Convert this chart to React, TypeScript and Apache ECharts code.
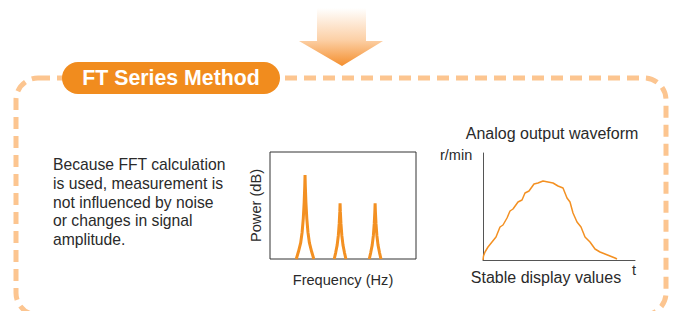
import React, { useEffect, useRef } from "react";
import * as echarts from "echarts";

// Spectrum peaks: [frequency position, power] (box spans 0..100 on both axes)
const peak1: number[][] = [
  [18, 0], [19.5, 7], [21, 15], [22, 25], [22.8, 38], [23.4, 53], [23.8, 68], [24, 78.5],
  [24.2, 68], [24.6, 53], [25.2, 38], [26, 25], [27, 15], [28.5, 7], [30, 0],
];
const peak2: number[][] = [
  [44, 0], [45, 6], [46, 13], [46.8, 22], [47.4, 33], [47.8, 44], [48, 52],
  [48.2, 44], [48.6, 33], [49.2, 22], [50, 13], [51, 6], [52, 0],
];
const peak3: number[][] = [
  [68, 0], [69, 6], [70, 13], [70.8, 22], [71.4, 33], [71.8, 44], [72, 52],
  [72.2, 44], [72.6, 33], [73.2, 22], [74, 13], [75, 6], [76, 0],
];

// Analog output waveform: [t, r/min]
const waveform: number[][] = [
  [0, 0], [0.5, 4], [2, 8], [5, 13], [9, 18], [13, 23], [17, 33], [20, 35], [24, 42],
  [27, 49], [30, 51], [35, 58], [39, 60], [42, 67], [46, 69], [51, 76], [55, 77],
  [60, 79], [65, 78], [70, 77], [75, 74], [80, 72], [84, 62], [87, 58], [90, 47],
  [94, 38], [98, 33], [102, 23], [107, 18], [112, 11], [117, 8], [122, 6], [127, 4],
  [132, 2], [134, 1],
];

const descText = [
  "Because FFT calculation",
  "is used, measurement is",
  "not influenced by noise",
  "or changes in signal",
  "amplitude.",
];

const FONT = "Liberation Sans, Arial, Helvetica, sans-serif";
const ORANGE = "#f39022";
const TEXT = "#2a2a2a";

export default function App() {
  const ref = useRef<HTMLDivElement>(null);
  useEffect(() => {
    if (!ref.current) return;
    const chart = echarts.init(ref.current, undefined, { renderer: "svg" });
    const hiddenAxis = {
      axisTick: { show: false },
      axisLabel: { show: false },
      splitLine: { show: false },
    };
    chart.setOption({
      animation: false,
      backgroundColor: "#ffffff",
      textStyle: { fontFamily: FONT },
      grid: [
        { left: 270, top: 152, width: 146, height: 107, show: true, borderColor: "#333", borderWidth: 1, backgroundColor: "transparent" },
        { left: 483, top: 153, width: 152, height: 107 },
      ],
      xAxis: [
        {
          gridIndex: 0, type: "value", min: 0, max: 100, ...hiddenAxis,
          axisLine: { show: false },
          name: "Frequency (Hz)", nameLocation: "middle", nameGap: 13,
          nameTextStyle: { fontSize: 14.6, color: TEXT, fontFamily: FONT },
        },
        {
          gridIndex: 1, type: "value", min: 0, max: 152, ...hiddenAxis,
          axisLine: { show: true, lineStyle: { color: "#555", width: 1 } },
        },
      ],
      yAxis: [
        {
          gridIndex: 0, type: "value", min: 0, max: 100, ...hiddenAxis,
          axisLine: { show: false },
          name: "Power (dB)", nameLocation: "middle", nameGap: 7, nameRotate: 90,
          nameTextStyle: { fontSize: 14.6, color: TEXT, fontFamily: FONT },
        },
        {
          gridIndex: 1, type: "value", min: 0, max: 107, ...hiddenAxis,
          axisLine: { show: true, lineStyle: { color: "#555", width: 1 } },
        },
      ],
      series: [
        ...[peak1, peak2, peak3].map((d) => ({
          type: "line", xAxisIndex: 0, yAxisIndex: 0, data: d, symbol: "none",
          lineStyle: { color: ORANGE, width: 3 }, clip: true,
        })),
        {
          type: "line", xAxisIndex: 1, yAxisIndex: 1, data: waveform, symbol: "none",
          lineStyle: { color: ORANGE, width: 1.5 },
        },
      ],
      graphic: [
        {
          type: "polygon", z: 5,
          shape: { points: [[317, 8], [366, 8], [366, 41], [383, 41], [342, 66], [299, 41], [317, 41]] },
          style: {
            fill: new echarts.graphic.LinearGradient(0, 0, 0, 1, [
              { offset: 0, color: "#ffffff" },
              { offset: 0.55, color: "#fcd0a6" },
              { offset: 1, color: "#f48f2e" },
            ]),
          },
        },
        {
          type: "rect", z: 5,
          shape: { x: 16, y: 78, width: 650, height: 237, r: 22 },
          style: { fill: "none", stroke: "#fcc590", lineWidth: 5, lineDash: [12, 7] },
        },
        {
          type: "rect", z: 6,
          shape: { x: 62, y: 62, width: 218, height: 32, r: 16 },
          style: { fill: "#f18c1e" },
        },
        {
          type: "text", z: 7, x: 171, y: 78,
          style: {
            text: "FT Series Method", fill: "#ffffff", fontSize: 21.3, fontWeight: "bold",
            fontFamily: FONT, align: "center", verticalAlign: "middle",
          },
        },
        {
          type: "text", z: 7, x: 53, y: 155,
          style: {
            text: descText.join("\n"), fill: TEXT, fontSize: 15.7, lineHeight: 18.8,
            fontFamily: FONT, align: "left", verticalAlign: "top",
          },
        },
        {
          type: "text", z: 7, x: 552, y: 133,
          style: { text: "Analog output waveform", fill: TEXT, fontSize: 16, fontFamily: FONT, align: "center", verticalAlign: "middle" },
        },
        {
          type: "text", z: 7, x: 440, y: 155,
          style: { text: "r/min", fill: TEXT, fontSize: 14.5, fontFamily: FONT, align: "left", verticalAlign: "middle" },
        },
        {
          type: "text", z: 7, x: 546, y: 277,
          style: { text: "Stable display values", fill: TEXT, fontSize: 16, fontFamily: FONT, align: "center", verticalAlign: "middle" },
        },
        {
          type: "text", z: 7, x: 634, y: 270,
          style: { text: "t", fill: TEXT, fontSize: 14.5, fontFamily: FONT, align: "center", verticalAlign: "middle" },
        },
      ],
    });
    return () => chart.dispose();
  }, []);
  return (
    <div
      ref={ref}
      style={{ position: "fixed", left: 0, top: 0, width: 674, height: 311 }}
    />
  );
}
